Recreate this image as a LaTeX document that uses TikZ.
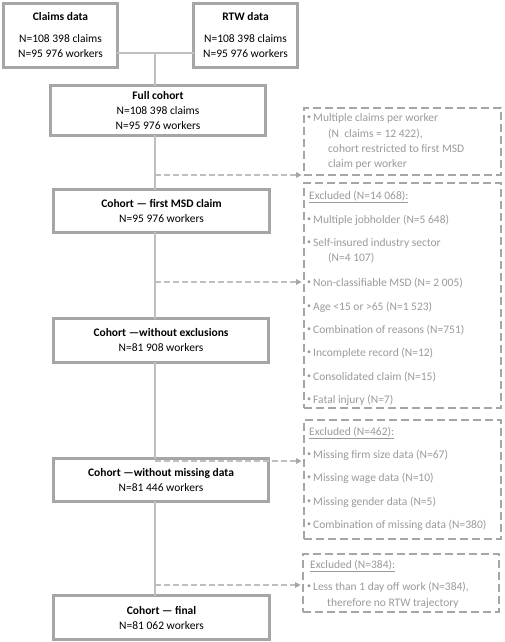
\documentclass[tikz,border=0pt]{standalone}
\usepackage{fontspec}
\setmainfont{Carlito}
\usetikzlibrary{arrows.meta}
\definecolor{boxgray}{HTML}{A6A6A6}
\definecolor{linegray}{HTML}{BFBFBF}
\definecolor{txtgray}{HTML}{9A9A9A}
\newcommand{\bul}{\raisebox{1.8pt}{\fontsize{8}{8}\selectfont •}\hspace{2pt}}
\begin{document}
\begin{tikzpicture}[x=1pt,y=-1pt,
  mainbox/.style={align=center, inner sep=0pt, fill=white, font=\fontsize{11.5}{15}\selectfont},
  frame/.style={draw=boxgray, line width=2.8pt},
  dbox/.style={draw=boxgray, line width=2.4pt, dash pattern=on 8pt off 4pt, inner sep=0pt},
  item/.style={anchor=west, text=txtgray, inner sep=0pt, font=\fontsize{11.5}{14}\selectfont},
  conn/.style={draw=linegray, line width=1.4pt},
  dline/.style={draw=linegray, line width=1.4pt, dash pattern=on 6pt off 3pt},
  tip/.style={fill=boxgray, draw=none}]
\useasboundingbox (0,0) rectangle (505,642);

% coordinates for connectors
\coordinate (j0) at (155,53);
\coordinate (d1) at (155,175);
\coordinate (d2) at (155,282);
\coordinate (d3) at (155,461);
\coordinate (d4) at (155,585);

% right dashed boxes
\node[dbox, minimum width=197, minimum height=67] (ba) at (402.5,141.5) {};
\node[dbox, minimum width=197, minimum height=225] (bb) at (402.5,295.5) {};
\node[dbox, minimum width=197, minimum height=119] (bc) at (402.5,479.5) {};
\node[dbox, minimum width=196, minimum height=58] (bd) at (401,583) {};

% top boxes
\node[mainbox, minimum width=113, minimum height=63] (claims) at (60.5,35.5) {\textbf{Claims data}\\[7pt]N=108 398 claims\\N=95 976 workers};
\node[mainbox, minimum width=103, minimum height=63] (rtw) at (245.5,35.5) {\textbf{RTW data}\\[7pt]N=108 398 claims\\N=95 976 workers};

% cohort boxes
\node[mainbox, minimum width=214, minimum height=49] (full) at (158,110.5) {\textbf{Full cohort}\\N=108 398 claims\\N=95 976 workers};
\node[mainbox, minimum width=215, minimum height=42] (msd) at (161.5,211) {\textbf{Cohort — first MSD claim}\\N=95 976 workers};
\node[mainbox, minimum width=214, minimum height=43] (excl) at (161,340.5) {\textbf{Cohort —without exclusions}\\N=81 908 workers};
\node[mainbox, minimum width=214, minimum height=42] (miss) at (161,480) {\textbf{Cohort —without missing data}\\N=81 446 workers};
\node[mainbox, minimum width=215, minimum height=43] (final) at (161.5,617.5) {\textbf{Cohort — final}\\N=81 062 workers};

% frames of the main boxes
\foreach \n in {claims,rtw,full,msd,excl,miss,final}
  \draw[frame] (\n.south west) rectangle (\n.north east);

% connectors
\draw[conn] (claims.east |- j0) -- (rtw.west |- j0);
\draw[conn] (j0) -- (j0 |- full.north);
\draw[conn] (j0 |- full.south) -- (j0 |- msd.north);
\draw[conn] (j0 |- msd.south) -- (j0 |- excl.north);
\draw[conn] (j0 |- excl.south) -- (j0 |- miss.north);
\draw[conn] (j0 |- miss.south) -- (j0 |- final.north);

% dashed arrows with solid triangular tips
\foreach \d/\b [count=\i] in {d1/ba, d2/bb, d3/bc, d4/bd} {
  \coordinate (t\i) at ([xshift=-1.3pt]\b.west |- \d);
  \draw[dline] (\d) -- ([xshift=-5pt]t\i);
  \fill[tip] (t\i) -- ++(-5.5,-3) -- ++(0,6) -- cycle;
}

% box A text
\node[item] (a1) at (307,118) {\bul Multiple claims per worker};
\node[item] (a2) at (328,134) {(N\ \ claims = 12 422),};
\node[item] (a3) at (328,149) {cohort restricted to first MSD};
\node[item] (a4) at (328,164) {claim per worker};

% box B text
\node[item] (b0) at (309,197) {\underline{Excluded (N=14 068):}};
\node[item] (b1) at (307,220) {\bul Multiple jobholder (N=5 648)};
\node[item] (b2) at (307,243) {\bul Self-insured industry sector};
\node[item] (b3) at (328,258) {(N=4 107)};
\node[item] (b4) at (307,283) {\bul Non-classifiable MSD (N= 2 005)};
\node[item] (b5) at (307,307) {\bul Age <15 or >65 (N=1 523)};
\node[item] (b6) at (307,330) {\bul Combination of reasons (N=751)};
\node[item] (b7) at (307,353) {\bul Incomplete record (N=12)};
\node[item] (b8) at (307,377) {\bul Consolidated claim (N=15)};
\node[item] (b9) at (307,400) {\bul Fatal injury (N=7)};

% box C text
\node[item] (c0) at (309,433) {\underline{Excluded (N=462):}};
\node[item] (c1) at (307,455) {\bul Missing firm size data (N=67)};
\node[item] (c2) at (307,478) {\bul Missing wage data (N=10)};
\node[item] (c3) at (307,502) {\bul Missing gender data (N=5)};
\node[item] (c4) at (307,525) {\bul Combination of missing data (N=380)};

% box D text
\node[item] (e0) at (310,566) {\underline{Excluded (N=384):}};
\node[item] (e1) at (307,587) {\bul Less than 1 day off work (N=384),};
\node[item] (e2) at (327,603) {therefore no RTW trajectory};
\end{tikzpicture}
\end{document}
